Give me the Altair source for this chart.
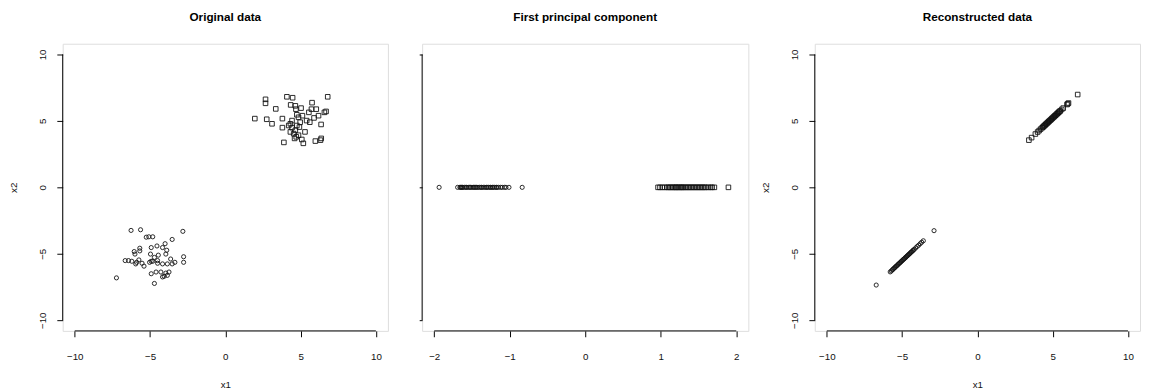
import altair as alt
import pandas as pd

# ---------------- data ----------------
# Original data: squares (upper-right cluster)
orig_sq_x1 = [2.67, 2.67, 3.35, 1.96, 2.75, 3.10, 3.79, 3.79, 4.09, 4.47, 4.34, 4.65, 4.69,
              5.03, 5.76, 6.80, 4.75, 5.12, 5.55, 6.04, 6.19, 6.58, 5.89, 5.40, 4.97, 4.75,
              6.36, 4.21, 4.43, 4.32, 4.54, 4.86, 5.29, 4.60, 5.08, 3.89, 5.18, 5.98, 6.37,
              6.32, 4.65, 4.86, 5.61, 4.43, 6.69, 4.92, 5.72, 4.32, 4.71]
orig_sq_x2 = [6.62, 6.32, 5.90, 5.17, 5.12, 4.78, 5.17, 4.49, 6.81, 6.74, 6.20, 6.13, 5.88,
              5.96, 6.37, 6.81, 5.46, 5.39, 5.64, 5.88, 5.39, 5.64, 5.22, 5.02, 4.90, 4.65,
              4.73, 4.65, 4.49, 4.17, 4.04, 3.92, 4.17, 3.68, 3.60, 3.38, 3.31, 3.48, 3.68,
              3.55, 4.29, 5.27, 4.90, 5.02, 5.71, 4.53, 5.88, 4.78, 3.80]
# Original data: circles (lower-left cluster)
orig_ci_x1 = [-6.26, -5.63, -5.25, -5.08, -4.82, -2.82, -3.53, -4.00, -4.17, -4.54, -4.92,
              -5.68, -6.05, -6.00, -4.97, -4.45, -3.95, -3.89, -6.43, -6.21, -5.89, -5.74,
              -5.95, -5.40, -5.03, -4.92, -4.82, -4.50, -4.17, -3.85, -3.53, -3.35, -2.77,
              -2.77, -4.50, -7.23, -4.92, -4.60, -4.28, -3.95, -4.06, -3.85, -4.71, -3.74,
              -5.68, -6.65, -3.63, -4.17, -5.53, -4.71]
orig_ci_x2 = [-3.24, -3.19, -3.75, -3.72, -3.72, -3.31, -3.92, -4.24, -4.53, -4.41, -4.53,
              -4.58, -4.83, -5.02, -5.02, -5.10, -5.02, -4.73, -5.51, -5.56, -5.64, -5.46,
              -5.76, -5.93, -5.64, -5.56, -5.56, -5.71, -5.76, -5.76, -5.76, -5.64, -5.22,
              -5.64, -5.51, -6.81, -6.50, -6.37, -6.37, -6.45, -6.69, -6.62, -7.23, -6.37,
              -4.78, -5.51, -5.39, -6.74, -5.71, -5.27]

# First principal component scores
pc_ci = [-1.935, -1.69, -1.66, -1.65, -1.64, -1.63, -1.62, -1.60, -1.58, -1.57, -1.55,
         -1.53, -1.52, -1.50, -1.48, -1.47, -1.45, -1.44, -1.42, -1.40, -1.38, -1.37,
         -1.35, -1.33, -1.31, -1.30, -1.28, -1.26, -1.25, -1.23, -1.22, -1.20, -1.18,
         -1.17, -1.15, -1.12, -1.10, -1.07, -1.05, -1.01, -0.835]
pc_sq = [0.964, 0.99, 1.02, 1.05, 1.08, 1.10, 1.12, 1.14, 1.16, 1.18, 1.20, 1.21, 1.23,
         1.25, 1.27, 1.28, 1.30, 1.32, 1.34, 1.36, 1.38, 1.40, 1.42, 1.44, 1.46, 1.48,
         1.50, 1.52, 1.54, 1.56, 1.58, 1.60, 1.63, 1.66, 1.68, 1.71, 1.896]

# Reconstructed data
rec_ci_x1 = [-6.72, -5.79, -5.72, -5.65, -5.60, -5.55, -5.50, -5.45, -5.40, -5.35, -5.30,
             -5.25, -5.20, -5.15, -5.10, -5.05, -5.00, -4.95, -4.90, -4.85, -4.80, -4.75,
             -4.70, -4.65, -4.60, -4.55, -4.50, -4.45, -4.40, -4.35, -4.30, -4.25, -4.20,
             -4.10, -4.00, -3.90, -3.80, -3.70, -3.59, -2.88]
rec_ci_x2 = [-7.35, -6.36, -6.29, -6.21, -6.16, -6.10, -6.05, -6.00, -5.94, -5.89, -5.84,
             -5.78, -5.73, -5.68, -5.62, -5.57, -5.52, -5.46, -5.41, -5.36, -5.31, -5.25,
             -5.20, -5.15, -5.09, -5.04, -4.99, -4.93, -4.88, -4.83, -4.77, -4.72, -4.67,
             -4.56, -4.45, -4.35, -4.24, -4.13, -4.02, -3.26]
rec_sq_x1 = [3.42, 3.60, 3.85, 4.00, 4.10, 4.20, 4.30, 4.35, 4.40, 4.45, 4.50, 4.55, 4.60,
             4.65, 4.70, 4.75, 4.80, 4.85, 4.90, 4.95, 5.00, 5.05, 5.10, 5.15, 5.20, 5.25,
             5.30, 5.35, 5.40, 5.45, 5.50, 5.60, 5.70, 5.95, 6.00, 6.05, 6.66]
rec_sq_x2 = [3.55, 3.74, 4.01, 4.16, 4.27, 4.38, 4.48, 4.53, 4.59, 4.64, 4.69, 4.75, 4.80,
             4.85, 4.91, 4.96, 5.01, 5.06, 5.12, 5.17, 5.22, 5.28, 5.33, 5.38, 5.43, 5.49,
             5.54, 5.59, 5.65, 5.70, 5.75, 5.86, 5.96, 6.23, 6.28, 6.34, 6.98]

xy_ticks = [-10, -5, 0, 5, 10]
xy_domain = [-10.8, 10.8]
pc_xticks = [-2, -1, 0, 1, 2]
pc_xdomain = [-2.16, 2.16]
pc_yticks = [-1, -0.5, 0, 0.5, 1]
pc_ydomain = [-1.08, 1.08]

titles = ["Original data", "First principal component", "Reconstructed data"]

# ---------------- styling ----------------
FONT = "Liberation Sans"
H = 294
shape_scale = alt.Scale(domain=["c", "s"], range=["circle", "square"])
size_scale = alt.Scale(domain=["c", "s"], range=[18, 22])


def frame_df(x, y, g):
    return pd.DataFrame({"x": x, "y": y, "g": g})


def xaxis(values, title):
    kw = dict(values=values, format="d", domain=False, grid=False, tickSize=6,
              tickColor="#000", tickWidth=1, labelFont=FONT, labelFontSize=10,
              labelColor="#111", labelPadding=15, labelFlush=False, labelOverlap=False)
    if title:
        return alt.Axis(title=title, titleFont=FONT, titleFontSize=10,
                        titleFontWeight="normal", titleColor="#111", titlePadding=19, **kw)
    return alt.Axis(title=None, **kw)


def yaxis(values, title, labels=True, ticksize=6):
    kw = dict(values=values, format="d", domain=False, grid=False, tickSize=ticksize,
              tickColor="#000", tickWidth=1, labels=labels, labelFont=FONT,
              labelFontSize=10, labelColor="#111", labelAngle=270, labelAlign="center",
              labelBaseline="bottom", labelPadding=10, labelFlush=False, labelOverlap=False)
    if title:
        return alt.Axis(title=title, titleFont=FONT, titleFontSize=10,
                        titleFontWeight="normal", titleColor="#111", titlePadding=19, **kw)
    return alt.Axis(title=None, **kw)


def panel(df, xdom, ydom, xt, yt, xtitle, ytitle, title, w, ylabels=True, yticksize=6):
    xs = alt.Scale(domain=xdom, nice=False, zero=False)
    ys = alt.Scale(domain=ydom, nice=False, zero=False)
    pts = alt.Chart(df).mark_point(filled=False, stroke="#111", strokeWidth=0.9,
                                   opacity=1).encode(
        x=alt.X("x:Q", scale=xs, axis=xaxis(xt, xtitle)),
        y=alt.Y("y:Q", scale=ys, axis=yaxis(yt, ytitle, ylabels, yticksize)),
        shape=alt.Shape("g:N", scale=shape_scale, legend=None),
        size=alt.Size("g:N", scale=size_scale, legend=None),
    )
    # axis lines spanning first to last tick (as R draws them)
    xline = alt.Chart(pd.DataFrame({"lo": [min(xt)], "hi": [max(xt)]})).mark_rule(
        color="#000", strokeWidth=1).encode(
        x=alt.X("lo:Q", scale=xs), x2="hi:Q", y=alt.datum(ydom[0]))
    yline = alt.Chart(pd.DataFrame({"lo": [min(yt)], "hi": [max(yt)]})).mark_rule(
        color="#000", strokeWidth=1).encode(
        y=alt.Y("lo:Q", scale=ys), y2="hi:Q", x=alt.datum(xdom[0]))
    return alt.layer(pts, xline, yline).properties(
        width=w, height=H,
        title=alt.TitleParams(title, font=FONT, fontSize=12, fontWeight="bold",
                              color="#000", anchor="middle", offset=20))


df1 = pd.concat([frame_df(orig_sq_x1, orig_sq_x2, "s"),
                 frame_df(orig_ci_x1, orig_ci_x2, "c")])
df2 = pd.concat([frame_df(pc_ci, [0] * len(pc_ci), "c"),
                 frame_df(pc_sq, [0] * len(pc_sq), "s")])
df3 = pd.concat([frame_df(rec_sq_x1, rec_sq_x2, "s"),
                 frame_df(rec_ci_x1, rec_ci_x2, "c")])

p1 = panel(df1, xy_domain, xy_domain, xy_ticks, xy_ticks, "x1", "x2", titles[0], 333)
p2 = panel(df2, pc_xdomain, pc_ydomain, pc_xticks, pc_yticks, None, None, titles[1], 334,
           ylabels=False, yticksize=3)
p3 = panel(df3, xy_domain, xy_domain, xy_ticks, xy_ticks, "x1", "x2", titles[2], 333)

inner = alt.hconcat(p1, p2, spacing=30)
chart = alt.hconcat(inner, p3, spacing=11).properties(
    padding={"left": 0, "top": -2, "right": 0, "bottom": 0}
).configure_view(stroke="#8a8a8a", strokeWidth=1).configure(background="white")

chart.save("out.html", embed_options={"renderer": "svg", "actions": False})
